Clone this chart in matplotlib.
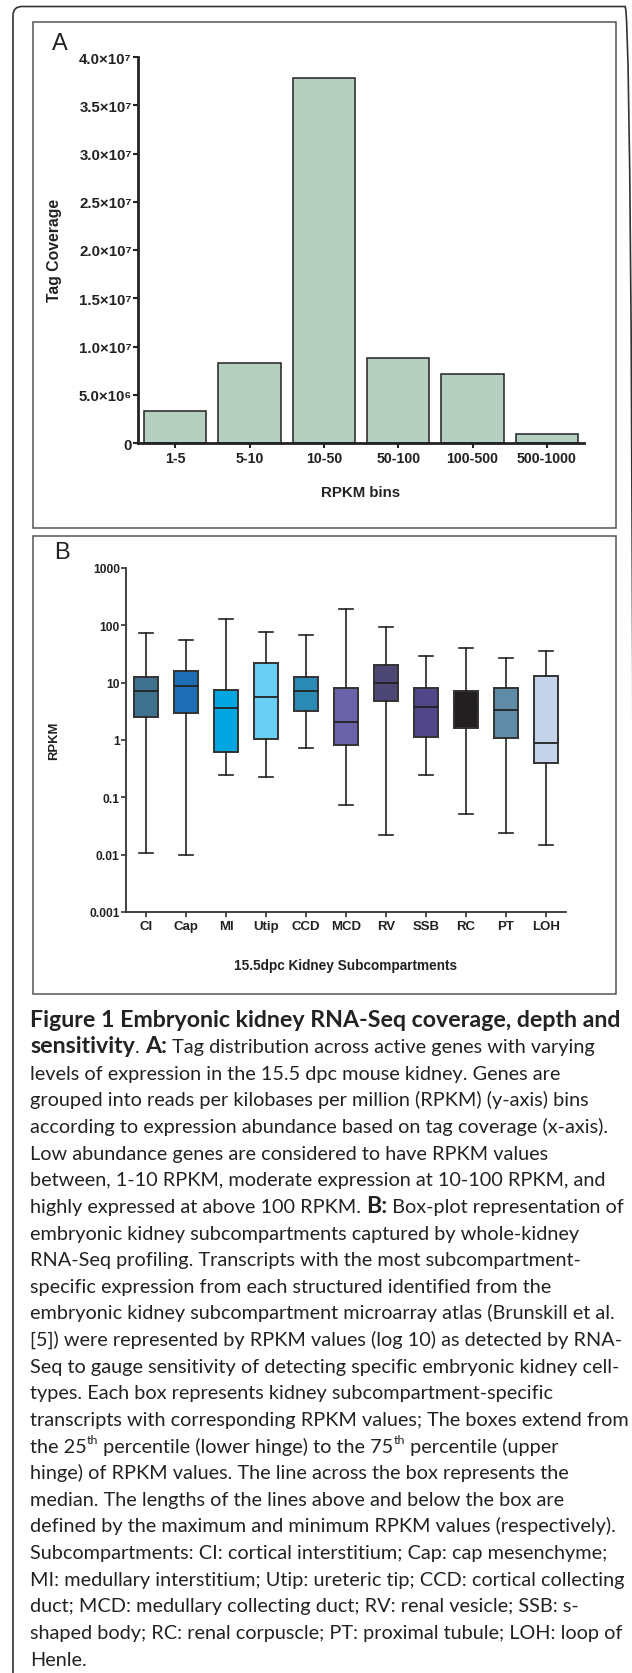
import matplotlib
matplotlib.use('Agg')
import matplotlib.pyplot as plt
from matplotlib.patches import Rectangle, FancyBboxPatch
from matplotlib.transforms import IdentityTransform
from matplotlib.ticker import FuncFormatter, NullLocator
from matplotlib.font_manager import FontProperties

W, H = 632, 1674

# Panel A: tag coverage per RPKM bin
rpkm_bins = ['1-5', '5-10', '10-50', '50-100', '100-500', '500-1000']
tag_coverage = [3.3e6, 8.3e6, 3.78e7, 8.8e6, 7.2e6, 0.92e6]
a_yticks = [0, 5e6, 1e7, 1.5e7, 2e7, 2.5e7, 3e7, 3.5e7, 4e7]

# Panel B: RPKM box plots per subcompartment
compartments = ['CI', 'Cap', 'MI', 'Utip', 'CCD', 'MCD', 'RV', 'SSB', 'RC', 'PT', 'LOH']
rpkm_max = [73, 55, 129, 77, 68, 190, 94, 29, 41, 27, 36]
rpkm_q3 = [12.8, 15.7, 7.5, 22, 12.6, 8.0, 20, 8.0, 7.2, 8.2, 13.3]
rpkm_med = [7.1, 8.7, 3.6, 5.6, 7.3, 2.1, 10, 3.8, 4.15, 3.35, 0.9]
rpkm_q1 = [2.5, 2.9, 0.62, 1.04, 3.2, 0.83, 4.8, 1.11, 1.6, 1.07, 0.40]
rpkm_min = [0.0105, 0.0099, 0.25, 0.225, 0.72, 0.074, 0.022, 0.25, 0.051, 0.024, 0.0146]
box_colors = ['#40728f', '#1e6db5', '#00a6e0', '#6bcff4', '#2a8ab4', '#6a63aa',
              '#4d4776', '#514788', '#231f20', '#5f8ba6', '#c5d3ea']
b_yticks = [0.001, 0.01, 0.1, 1, 10, 100, 1000]
b_yticklabels = ['0.001', '0.01', '0.1', '1', '10', '100', '1000']

# caption: each line is a list of (text, bold, superscript)
caption = [
    [("Figure 1 Embryonic kidney RNA-Seq coverage, depth and", True, False)],
    [("sensitivity", True, False), (". ", False, False), ("A:", True, False),
     (" Tag distribution across active genes with varying", False, False)],
    [("levels of expression in the 15.5 dpc mouse kidney. Genes are", False, False)],
    [("grouped into reads per kilobases per million (RPKM) (y-axis) bins", False, False)],
    [("according to expression abundance based on tag coverage (x-axis).", False, False)],
    [("Low abundance genes are considered to have RPKM values", False, False)],
    [("between, 1-10 RPKM, moderate expression at 10-100 RPKM, and", False, False)],
    [("highly expressed at above 100 RPKM. ", False, False), ("B:", True, False),
     (" Box-plot representation of", False, False)],
    [("embryonic kidney subcompartments captured by whole-kidney", False, False)],
    [("RNA-Seq profiling. Transcripts with the most subcompartment-", False, False)],
    [("specific expression from each structured identified from the", False, False)],
    [("embryonic kidney subcompartment microarray atlas (Brunskill et al.", False, False)],
    [("[5]) were represented by RPKM values (log 10) as detected by RNA-", False, False)],
    [("Seq to gauge sensitivity of detecting specific embryonic kidney cell-", False, False)],
    [("types. Each box represents kidney subcompartment-specific", False, False)],
    [("transcripts with corresponding RPKM values; The boxes extend from", False, False)],
    [("the 25", False, False), ("th", False, True), (" percentile (lower hinge) to the 75", False, False),
     ("th", False, True), (" percentile (upper", False, False)],
    [("hinge) of RPKM values. The line across the box represents the", False, False)],
    [("median. The lengths of the lines above and below the box are", False, False)],
    [("defined by the maximum and minimum RPKM values (respectively).", False, False)],
    [("Subcompartments: CI: cortical interstitium; Cap: cap mesenchyme;", False, False)],
    [("MI: medullary interstitium; Utip: ureteric tip; CCD: cortical collecting", False, False)],
    [("duct; MCD: medullary collecting duct; RV: renal vesicle; SSB: s-", False, False)],
    [("shaped body; RC: renal corpuscle; PT: proximal tubule; LOH: loop of", False, False)],
    [("Henle.", False, False)],
]

plt.rcParams['font.family'] = ['Liberation Sans', 'DejaVu Sans']

fig = plt.figure(figsize=(W / 100, H / 100), dpi=100)


def axes_px(left, top, right, bottom):
    return fig.add_axes([left / W, 1 - bottom / H, (right - left) / W, (bottom - top) / H])


def text_px(x, y, s, **kw):
    return fig.text(x / W, 1 - y / H, s, **kw)


# outer rounded frame (runs off the right and bottom edges)
fig.patches.append(FancyBboxPatch((13, -40), 621, H - 7 + 40 - 0.5,
                                  boxstyle="round,pad=0,rounding_size=9",
                                  transform=IdentityTransform(), fill=False,
                                  edgecolor='#333333', linewidth=1.2))
# panel frames
for top, bottom in [(23, 529), (537, 995)]:
    fig.patches.append(Rectangle((33 / W, 1 - bottom / H), (616 - 33) / W, (bottom - top) / H,
                                 transform=fig.transFigure, fill=False,
                                 edgecolor='#555555', linewidth=1.1))

# ---- Panel A ----
axA = axes_px(138, 58, 584, 444)
axA.bar(range(len(rpkm_bins)), tag_coverage, width=0.84, color='#b5cfc0',
        edgecolor='#222222', linewidth=1.1)
axA.set_xlim(-0.5, len(rpkm_bins) - 0.5)
axA.set_ylim(0, 4e7)
axA.set_xticks(range(len(rpkm_bins)))
axA.set_xticklabels(rpkm_bins)
axA.set_yticks(a_yticks)

sup = str.maketrans('0123456789', '⁰¹²³⁴⁵⁶⁷⁸⁹')


def sci(v, pos):
    if v == 0:
        return '0'
    e = len(str(int(v))) - 1
    return '%.1f×10%s' % (v / 10 ** e, str(e).translate(sup))


axA.yaxis.set_major_formatter(FuncFormatter(sci))
for side in ['top', 'right']:
    axA.spines[side].set_visible(False)
for side in ['left', 'bottom']:
    axA.spines[side].set_linewidth(2.0)
    axA.spines[side].set_color('#222222')
axA.tick_params(direction='out', length=3.5, width=1.5, color='#222222', pad=2)
axA.tick_params(axis='x', labelsize=10.2)
axA.tick_params(axis='y', labelsize=10.8, pad=1)
for lab in axA.get_xticklabels() + axA.get_yticklabels():
    lab.set_fontweight('bold')
    lab.set_color('#222222')

text_px(60, 44, 'A', fontsize=17, ha='center', va='center', color='#222222')
text_px(361, 493, 'RPKM bins', fontsize=10.8, fontweight='bold', ha='center', va='center',
        color='#222222')
text_px(55, 250, 'Tag Coverage', fontsize=11.3, fontweight='bold', ha='center', va='center',
        rotation=90, color='#222222')

# ---- Panel B ----
axB = axes_px(126, 569, 566, 913)
stats = []
for i in range(len(compartments)):
    stats.append({'med': rpkm_med[i], 'q1': rpkm_q1[i], 'q3': rpkm_q3[i],
                  'whislo': rpkm_min[i], 'whishi': rpkm_max[i], 'fliers': []})
bp = axB.bxp(stats, positions=range(len(compartments)), widths=0.62, patch_artist=True,
             showfliers=False, capwidths=0.34,
             boxprops=dict(edgecolor='#333333', linewidth=1.4),
             medianprops=dict(color='#222222', linewidth=1.3),
             whiskerprops=dict(color='#222222', linewidth=1.2),
             capprops=dict(color='#222222', linewidth=1.2))
for patch, c in zip(bp['boxes'], box_colors):
    patch.set_facecolor(c)
axB.set_yscale('log')
axB.set_ylim(0.001, 1000)
axB.set_xlim(-0.5, len(compartments) - 0.5)
axB.set_yticks(b_yticks)
axB.set_yticklabels(b_yticklabels)
axB.yaxis.set_minor_locator(NullLocator())
axB.set_xticks(range(len(compartments)))
axB.set_xticklabels(compartments)
for side in ['top', 'right']:
    axB.spines[side].set_visible(False)
for side in ['left', 'bottom']:
    axB.spines[side].set_linewidth(1.3)
    axB.spines[side].set_color('#333333')
axB.tick_params(direction='out', length=3.5, width=1.2, color='#333333', pad=2)
axB.tick_params(axis='x', labelsize=9.5)
axB.tick_params(axis='y', labelsize=8.7, pad=1)
for lab in axB.get_xticklabels() + axB.get_yticklabels():
    lab.set_fontweight('bold')
    lab.set_color('#222222')

text_px(62, 553, 'B', fontsize=17, ha='center', va='center', color='#222222')
text_px(346, 966, '15.5dpc Kidney Subcompartments', fontsize=9.8, fontweight='bold',
        ha='center', va='center', color='#222222')
text_px(54, 741, 'RPKM', fontsize=9.4, fontweight='bold', ha='center', va='center',
        rotation=90, color='#222222')

# ---- Caption ----
renderer = fig.canvas.get_renderer()
cap_font = 'Lato'


def advance(s, bold, size):
    fp = FontProperties(family=cap_font, weight='bold' if bold else 'normal', size=size)
    w1 = renderer.get_text_width_height_descent('|' + s + '|', fp, ismath=False)[0]
    w0 = renderer.get_text_width_height_descent('||', fp, ismath=False)[0]
    return w1 - w0


# pick size so the reference line fits its measured width
ref_w = advance(caption[4][0][0], False, 10)
cap_size = 10 * 581 / ref_w
cap_px = cap_size * 100 / 72
# bold title runs are a touch wider in the reference
bold_w = advance(caption[0][0][0], True, cap_size)
bold_scale = 589 / bold_w

for i, line in enumerate(caption):
    y_mid = 1020 + i * 26.625
    x = 30
    for s, bold, is_sup in line:
        size = cap_size * (0.62 if is_sup else 1) * (bold_scale if bold else 1)
        y_base = y_mid + 0.33 * cap_px - (0.42 * cap_px if is_sup else 0)
        text_px(x, y_base, s, fontsize=size, family=cap_font,
                fontweight='bold' if bold else 'normal', ha='left', va='baseline',
                color='#222222')
        x += advance(s, bold, size)

fig.savefig('out.png', dpi=100)
